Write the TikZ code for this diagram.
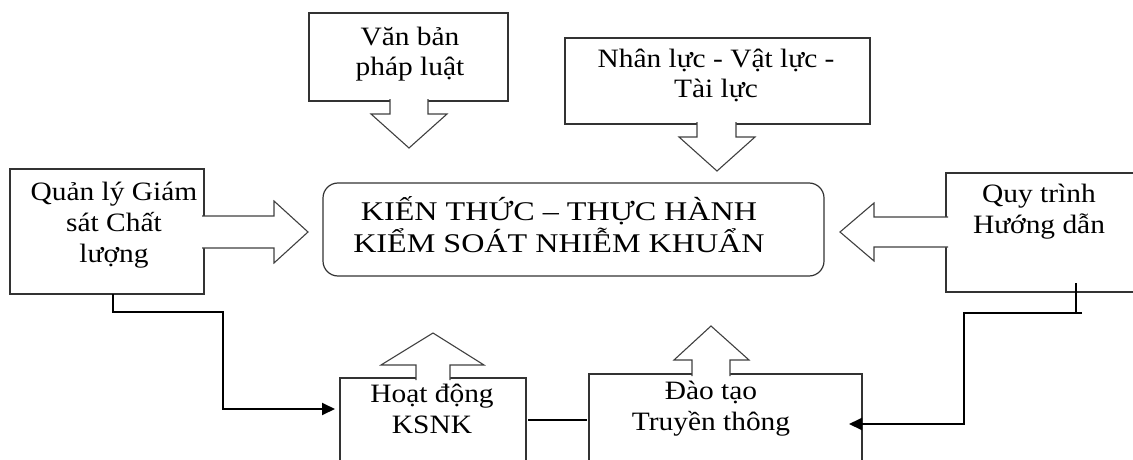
\documentclass[tikz,border=0pt]{standalone}
\usepackage{fontspec}
\setmainfont{Liberation Serif}[FakeStretch=1.11]
\newfontfamily\bigfont{Liberation Serif}[FakeStretch=1.19]
\usetikzlibrary{arrows.meta}
\begin{document}
\begin{tikzpicture}[x=1pt,y=-1pt,
  box/.style={draw=black!80,line width=1.2pt,anchor=north west,inner sep=0pt,outer sep=0pt,fill=white},
  txt/.style={anchor=base,align=center,inner sep=0pt,font=\fontsize{26.5}{31}\selectfont},
  bigtxt/.style={anchor=base,align=center,inner sep=0pt,font=\bigfont\fontsize{27}{32}\selectfont},
  blk/.style={draw=black!75,line width=1.1pt,line join=miter},
  conn/.style={draw=black,line width=2pt},
  tip/.style={-{Triangle[length=13pt,width=12pt]}}]
\useasboundingbox (0,0) rectangle (1133,460);
% boxes
\node[box,minimum width=194pt,minimum height=125pt] (lb) at (10,169) {};
\node[box,minimum width=199pt,minimum height=88pt] (vb) at (309,13) {};
\node[box,minimum width=305pt,minimum height=86pt] (nl) at (565,38) {};
\node[box,minimum width=190pt,minimum height=119pt] (qt) at (946,173) {};
\node[box,rounded corners=15pt,minimum width=501pt,minimum height=93pt] (cb) at (323,183) {};
\node[box,minimum width=186pt,minimum height=84pt] (hd) at (340,378) {};
\node[box,minimum width=273pt,minimum height=92pt] (dt) at (589,374) {};
% block arrows (filled white, open at the box side)
% left -> center
\fill[white] (201,216) -- (274,216) -- (274,201) -- (308,232) -- (274,263) -- (274,248) -- (201,248) -- cycle;
\draw[blk] (202,216) -- (274,216) -- (274,201) -- (308,232) -- (274,263) -- (274,248) -- (202,248);
% right -> center
\fill[white] (949,217) -- (874,217) -- (874,203) -- (840,232) -- (874,261) -- (874,247) -- (949,247) -- cycle;
\draw[blk] (948,217) -- (874,217) -- (874,203) -- (840,232) -- (874,261) -- (874,247) -- (948,247);
% van ban -> center
\fill[white] (390,98) -- (390,114) -- (371,114) -- (409,148) -- (447,114) -- (428,114) -- (428,98) -- cycle;
\draw[blk] (390,99) -- (390,114) -- (371,114) -- (409,148) -- (447,114) -- (428,114) -- (428,99);
% nhan luc -> center
\fill[white] (697,121) -- (697,137) -- (679,137) -- (717,171) -- (755,137) -- (736,137) -- (736,121) -- cycle;
\draw[blk] (697,122) -- (697,137) -- (679,137) -- (717,171) -- (755,137) -- (736,137) -- (736,122);
% hoat dong -> up
\fill[white] (416,381) -- (416,365) -- (381,365) -- (433,333) -- (484,365) -- (450,365) -- (450,381) -- cycle;
\draw[blk] (416,380) -- (416,365) -- (381,365) -- (433,333) -- (484,365) -- (450,365) -- (450,380);
% dao tao -> up
\fill[white] (692,377) -- (692,360) -- (674,360) -- (711,326) -- (749,360) -- (730,360) -- (730,377) -- cycle;
\draw[blk] (692,376) -- (692,360) -- (674,360) -- (711,326) -- (749,360) -- (730,360) -- (730,376);
% texts (anchor = baseline of last line)
\node[txt] (lbt) at (114,262) {Quản lý Giám\\sát Chất\\lượng};
\node[txt] (vbt) at (410,76) {Văn bản\\pháp luật};
\node[txt] (nlt) at (716,98) {Nhân lực - Vật lực -\\Tài lực};
\node[txt] (qtt) at (1039,233) {Quy trình\\Hướng dẫn};
\node[txt] (hdt) at (432,433) {Hoạt động\\KSNK};
\node[txt] (dtt) at (711,430) {Đào tạo\\Truyền thông};
\node[bigtxt] (cbt) at (559,252) {KIẾN THỨC – THỰC HÀNH\\KIỂM SOÁT NHIỄM KHUẨN};
% connectors
\coordinate (l1) at (223,312);
\draw[conn,tip,shorten >=5pt] ([xshift=6pt]lb.south) |- (l1) |- ([yshift=11pt]hd.west);
\draw[conn,line width=1.6pt,shorten <=2pt,shorten >=2pt] (hd.east) -- (dt.west);
\coordinate (r0) at (1082,313);
\coordinate (r1) at (964,313);
\draw[conn,tip] (r0) -- (r1) |- ([xshift=-13pt,yshift=-4pt]dt.east);
\draw[conn] ([xshift=35pt,yshift=9pt]qt.south) -- ++(0,30);
\end{tikzpicture}
\end{document}
